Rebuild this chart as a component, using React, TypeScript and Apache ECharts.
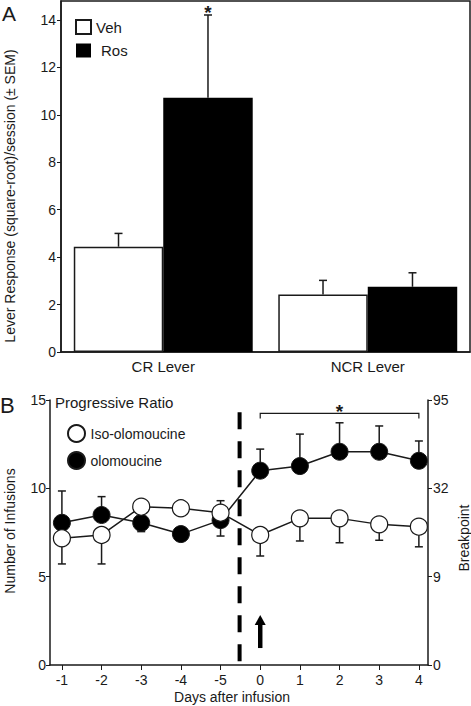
import React, { useEffect, useRef } from "react";
import * as echarts from "echarts";

// ---------- Panel A data ----------
const leverCategories = ["CR Lever", "NCR Lever"];
const vehValues = [4.44, 2.42];
const vehSem = [0.56, 0.6];
const rosValues = [10.72, 2.75];
const rosSem = [3.49, 0.59];
const rosSig = [1, 0];
const leverTicks = [0, 2, 4, 6, 8, 10, 12, 14];

// ---------- Panel B data ----------
const dayLabels = ["-1", "-2", "-3", "-4", "-5", "0", "1", "2", "3", "4"];
const isoValues = [7.17, 7.36, 8.96, 8.87, 8.62, 7.36, 8.3, 8.3, 7.96, 7.83];
const isoErr = [1.45, 1.64, 0.3, 0.2, 0.68, 1.19, 1.28, 1.38, 0.9, 1.14];
const isoErrDir = [-1, -1, 1, 1, 1, -1, -1, -1, -1, -1];
const oloValues = [8.05, 8.49, 8.05, 7.41, 8.2, 11.0, 11.26, 12.07, 12.07, 11.56];
const oloErr = [1.8, 1.04, 0.5, 0.3, 0.9, 1.22, 1.81, 1.64, 1.46, 1.12];
const oloErrDir = [1, 1, -1, -1, -1, 1, 1, 1, 1, 1];
const infusionTicks = [0, 5, 10, 15];
const breakpointTicks = ["0", "9", "32", "95"];
const infusionLine = [[4.48, 0, 14.3]];
const sigBracket = [[5, 9, 14.24]];
const infusionArrow = [[5, 0.96, 2.83]];

const FONT = "'Liberation Sans', Arial, sans-serif";
const INK = "#1a1a1a";
const BAR_GAP = 0.125;

export default function App() {
  const ref = useRef<HTMLDivElement>(null);
  useEffect(() => {
    document.body.style.margin = "0";
    const chart = echarts.init(ref.current!, null, { renderer: "svg" });
    const dayIdx = dayLabels.map((_, i) => i);

    const errA: any[] = [];
    leverCategories.forEach((_, i) => {
      errA.push([i, vehValues[i], vehSem[i], -1, 0]);
      errA.push([i, rosValues[i], rosSem[i], 1, rosSig[i]]);
    });
    const errB: any[] = [];
    dayIdx.forEach((i) => {
      errB.push([i, isoValues[i], isoErr[i] * isoErrDir[i]]);
      errB.push([i, oloValues[i], oloErr[i] * oloErrDir[i]]);
    });

    const axisLine = { show: true, onZero: false, lineStyle: { color: INK, width: 1.5 } };
    const starStyle = {
      text: "*",
      fontSize: 19,
      fontWeight: "bold",
      fontFamily: FONT,
      fill: INK,
      align: "center",
      verticalAlign: "middle",
    };

    chart.setOption({
      animation: false,
      textStyle: { fontFamily: FONT },
      grid: [
        { left: 61, top: 1, width: 409, height: 351, show: true, borderColor: INK, borderWidth: 1.5 },
        { left: 50, top: 400, width: 378, height: 265 },
      ],
      legend: [
        {
          data: [
            { name: "Veh", icon: "rect" },
            { name: "Ros", icon: "rect", textStyle: { padding: [0, 0, 0, 5] } },
          ],
          orient: "vertical",
          left: 70,
          top: 14,
          itemWidth: 15,
          itemHeight: 14,
          itemGap: 8,
          selectedMode: false,
          textStyle: { fontSize: 15, color: INK, fontFamily: FONT },
        },
        {
          data: [
            { name: "Iso-olomoucine", icon: "circle" },
            { name: "olomoucine", icon: "circle" },
          ],
          orient: "vertical",
          left: 62,
          top: 419,
          itemWidth: 18,
          itemHeight: 17,
          itemGap: 8,
          selectedMode: false,
          textStyle: { fontSize: 14, color: INK, fontFamily: FONT },
        },
      ],
      xAxis: [
        {
          gridIndex: 0,
          type: "category",
          data: leverCategories,
          axisTick: { show: false },
          axisLine,
          axisLabel: { fontSize: 15, color: INK, margin: 7, fontFamily: FONT },
        },
        {
          gridIndex: 1,
          type: "value",
          min: -0.3,
          max: 9.23,
          splitLine: { show: false },
          axisLine,
          axisTick: { show: true, customValues: dayIdx, length: 5, lineStyle: { color: INK } },
          axisLabel: {
            customValues: dayIdx,
            formatter: (v: number) => dayLabels[Math.round(v)],
            fontSize: 14,
            color: INK,
            margin: 8,
            fontFamily: FONT,
          },
        },
      ],
      yAxis: [
        {
          gridIndex: 0,
          type: "value",
          min: 0,
          max: 14.8,
          splitLine: { show: false },
          axisLine,
          axisTick: { show: true, customValues: leverTicks, length: 4, lineStyle: { color: INK } },
          axisLabel: { customValues: leverTicks, fontSize: 14, color: INK, margin: 5, fontFamily: FONT },
        },
        {
          gridIndex: 1,
          type: "value",
          position: "left",
          min: 0,
          max: 15,
          interval: 5,
          splitLine: { show: false },
          axisLine,
          axisTick: { show: true, length: 4, lineStyle: { color: INK } },
          axisLabel: { fontSize: 14, color: INK, margin: 4, fontFamily: FONT },
        },
        {
          gridIndex: 1,
          type: "value",
          position: "right",
          min: 0,
          max: 15,
          interval: 5,
          splitLine: { show: false },
          axisLine,
          axisTick: { show: true, length: 4, lineStyle: { color: INK } },
          axisLabel: {
            fontSize: 14,
            color: INK,
            margin: 5,
            fontFamily: FONT,
            formatter: (v: number) => breakpointTicks[infusionTicks.indexOf(v)] ?? "",
          },
        },
      ],
      series: [
        {
          name: "Veh",
          type: "bar",
          xAxisIndex: 0,
          yAxisIndex: 0,
          data: vehValues,
          barGap: "0%",
          barCategoryGap: BAR_GAP * 100 + "%",
          itemStyle: { color: "#ffffff", borderColor: INK, borderWidth: 1.5 },
        },
        {
          name: "Ros",
          type: "bar",
          xAxisIndex: 0,
          yAxisIndex: 0,
          data: rosValues,
          barGap: "0%",
          barCategoryGap: BAR_GAP * 100 + "%",
          itemStyle: { color: "#000000" },
        },
        {
          name: "errA",
          type: "custom",
          xAxisIndex: 0,
          yAxisIndex: 0,
          data: errA,
          encode: { x: 0, y: 1 },
          z: 5,
          renderItem: (params: any, api: any) => {
            const cat = api.value(0);
            const v = api.value(1);
            const e = api.value(2);
            const side = api.value(3);
            const sig = api.value(4);
            const base = api.coord([cat, v]);
            const top = api.coord([cat, v + e]);
            const band = api.size([1, 0])[0];
            const bw = (band * (1 - BAR_GAP)) / 2;
            const x = base[0] + (side * bw) / 2;
            const st = { stroke: INK, lineWidth: 1.5 };
            const children: any[] = [
              { type: "line", shape: { x1: x, y1: base[1], x2: x, y2: top[1] }, style: st },
              { type: "line", shape: { x1: x - 4, y1: top[1], x2: x + 4, y2: top[1] }, style: st },
            ];
            if (sig) {
              children.push({ type: "text", x: x, y: top[1] - 2, style: starStyle });
            }
            return { type: "group", children };
          },
        },
        {
          name: "errB",
          type: "custom",
          xAxisIndex: 1,
          yAxisIndex: 1,
          data: errB,
          encode: { x: 0, y: 1 },
          z: 1,
          renderItem: (params: any, api: any) => {
            const i = api.value(0);
            const v = api.value(1);
            const e = api.value(2);
            const a = api.coord([i, v]);
            const b = api.coord([i, v + e]);
            const st = { stroke: INK, lineWidth: 1.5 };
            return {
              type: "group",
              children: [
                { type: "line", shape: { x1: a[0], y1: a[1], x2: a[0], y2: b[1] }, style: st },
                { type: "line", shape: { x1: a[0] - 4, y1: b[1], x2: a[0] + 4, y2: b[1] }, style: st },
              ],
            };
          },
        },
        {
          name: "Iso-olomoucine",
          type: "line",
          xAxisIndex: 1,
          yAxisIndex: 1,
          data: isoValues.map((v, i) => [i, v]),
          symbol: "circle",
          symbolSize: 17,
          z: 4,
          lineStyle: { color: INK, width: 1.5 },
          itemStyle: { color: "#ffffff", borderColor: INK, borderWidth: 1.2 },
        },
        {
          name: "olomoucine",
          type: "line",
          xAxisIndex: 1,
          yAxisIndex: 1,
          data: oloValues.map((v, i) => [i, v]),
          symbol: "circle",
          symbolSize: 17,
          z: 3,
          lineStyle: { color: INK, width: 1.5 },
          itemStyle: { color: "#000000", borderColor: INK, borderWidth: 1 },
        },
        {
          name: "infusion",
          type: "custom",
          xAxisIndex: 1,
          yAxisIndex: 1,
          data: infusionLine,
          encode: { x: 0, y: 1 },
          z: 2,
          renderItem: (params: any, api: any) => {
            const a = api.coord([api.value(0), api.value(2)]);
            const b = api.coord([api.value(0), api.value(1)]);
            return {
              type: "line",
              shape: { x1: a[0], y1: a[1], x2: b[0], y2: b[1] },
              style: { stroke: "#000", lineWidth: 4, lineDash: [17, 12] },
            };
          },
        },
        {
          name: "bracket",
          type: "custom",
          xAxisIndex: 1,
          yAxisIndex: 1,
          data: sigBracket,
          encode: { x: 0, y: 2 },
          z: 2,
          renderItem: (params: any, api: any) => {
            const a = api.coord([api.value(0), api.value(2)]);
            const b = api.coord([api.value(1), api.value(2)]);
            return {
              type: "group",
              children: [
                {
                  type: "polyline",
                  shape: { points: [[a[0], a[1] + 5], [a[0], a[1]], [b[0], b[1]], [b[0], b[1] + 5]] },
                  style: { stroke: INK, lineWidth: 1.2, fill: "none" },
                },
                { type: "text", x: (a[0] + b[0]) / 2, y: a[1] - 2, style: starStyle },
              ],
            };
          },
        },
        {
          name: "arrow",
          type: "custom",
          xAxisIndex: 1,
          yAxisIndex: 1,
          data: infusionArrow,
          encode: { x: 0, y: 1 },
          z: 2,
          renderItem: (params: any, api: any) => {
            const a = api.coord([api.value(0), api.value(1)]);
            const b = api.coord([api.value(0), api.value(2)]);
            return {
              type: "group",
              children: [
                {
                  type: "line",
                  shape: { x1: a[0], y1: a[1], x2: b[0], y2: b[1] + 8 },
                  style: { stroke: "#000", lineWidth: 4.5 },
                },
                {
                  type: "polygon",
                  shape: { points: [[b[0] - 5.5, b[1] + 10], [b[0] + 5.5, b[1] + 10], [b[0], b[1]]] },
                  style: { fill: "#000" },
                },
              ],
            };
          },
        },
      ],
      graphic: [
        { type: "text", left: 2, top: 3, style: { text: "A", fontSize: 21, fontFamily: FONT, fill: INK } },
        { type: "text", left: 0, top: 394, style: { text: "B", fontSize: 22, fontFamily: FONT, fill: INK } },
        {
          type: "text",
          x: 10,
          y: 196,
          rotation: Math.PI / 2,
          style: {
            text: "Lever Response (square-root)/session (\u00B1 SEM)",
            fontSize: 14,
            fontFamily: FONT,
            fill: INK,
            align: "center",
            verticalAlign: "middle",
          },
        },
        {
          type: "text",
          x: 10,
          y: 531,
          rotation: Math.PI / 2,
          style: { text: "Number of Infusions", fontSize: 14, fontFamily: FONT, fill: INK, align: "center", verticalAlign: "middle" },
        },
        {
          type: "text",
          x: 464,
          y: 538,
          rotation: Math.PI / 2,
          style: { text: "Breakpoint", fontSize: 14, fontFamily: FONT, fill: INK, align: "center", verticalAlign: "middle" },
        },
        {
          type: "text",
          x: 232,
          y: 697,
          style: { text: "Days after infusion", fontSize: 14, fontFamily: FONT, fill: INK, align: "center", verticalAlign: "middle" },
        },
        {
          type: "text",
          left: 55,
          top: 395,
          style: { text: "Progressive Ratio", fontSize: 15, fontFamily: FONT, fill: INK },
        },
      ],
    });
    return () => chart.dispose();
  }, []);
  return <div ref={ref} style={{ width: 471, height: 706 }} />;
}
